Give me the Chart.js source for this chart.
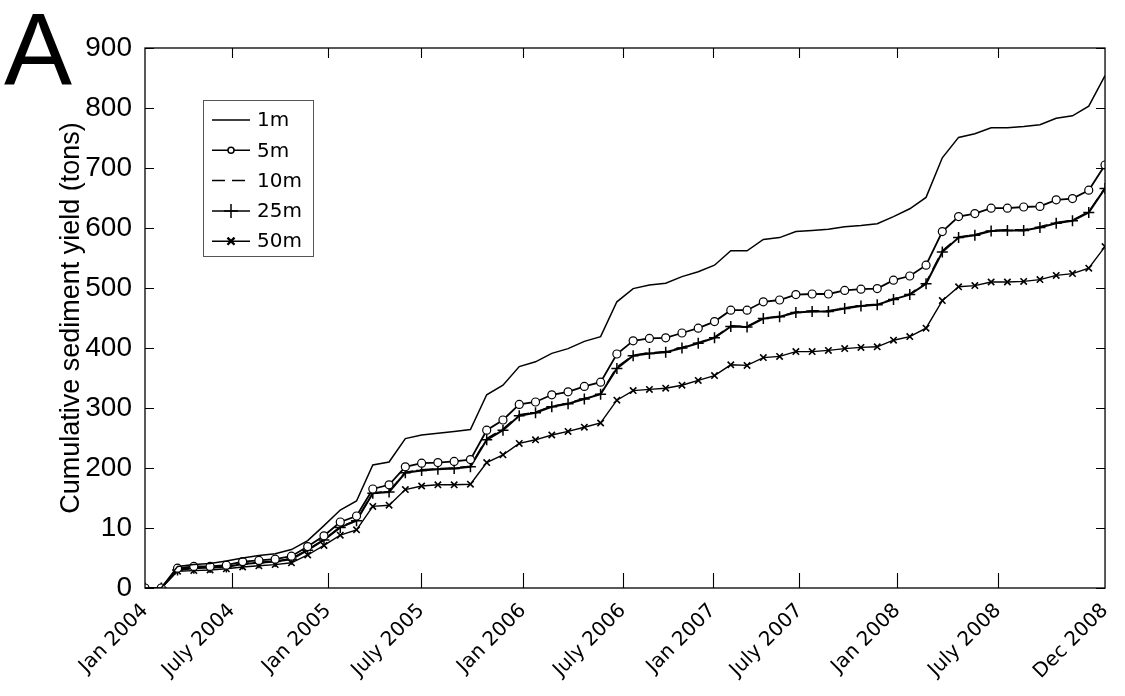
<!DOCTYPE html>
<html><head><meta charset="utf-8">
<script src="https://cdn.jsdelivr.net/npm/chart.js@4.4.0/dist/chart.umd.min.js"></script>
<style>
html,body{margin:0;padding:0;background:#fff;}
#wrap{position:relative;width:1125px;height:696px;overflow:hidden;}
#panel{position:absolute;left:4px;top:-1px;font-family:"Liberation Sans",Arial,sans-serif;font-size:102px;line-height:1;color:#000;}
canvas{position:absolute;left:0;top:0;}
</style></head><body>
<div id="wrap"><canvas id="c" width="1125" height="696"></canvas><div id="panel">A</div></div>
<script>
// Monthly values, Jan 2004 (index 0) .. Dec 2008 (index 59)
const seriesNames = ['1m','5m','10m','25m','50m'];
const y1m  = [0,0,36,39,41,45,50,54,57,64,79,104,130,145,205,210,249,255,258,261,264,322,338,369,377,391,399,411,419,477,499,505,508,519,527,538,562,562,581,584,594,596,598,602,604,607,619,632,651,717,751,757,767,767,769,772,783,787,803,854];
const y5m  = [0,0,33,36,36,38,44,46,48,53,69,87,110,120,165,172,202,208,209,211,214,263,280,306,310,322,327,336,343,390,412,416,417,425,433,444,463,463,477,480,489,490,490,496,498,499,513,520,538,594,619,624,633,633,635,636,647,649,663,705];
const y10m = [0,0,31,34,35,36,41,43,45,49,64,81,102,113,159,161,193,197,199,200,203,249,265,289,293,303,308,316,324,368,388,392,394,401,409,418,437,436,450,453,460,462,462,467,471,473,482,490,509,562,585,589,596,597,597,602,609,613,627,667];
const y25m = [0,0,30,33,34,35,40,42,44,48,63,80,101,112,158,160,192,196,198,199,202,247,263,287,292,302,307,315,323,366,387,391,393,400,408,417,436,435,449,452,459,461,461,466,470,472,481,489,507,560,584,588,595,596,596,601,608,612,626,666];
const y50m = [0,0,28,29,30,32,35,37,39,42,55,71,88,97,136,138,164,170,172,172,173,209,222,241,247,255,261,268,275,313,329,331,333,338,346,354,372,371,384,386,394,394,396,399,401,402,413,419,433,479,502,504,510,510,511,514,521,524,533,569];

const xTickMonths = [0,5.33,11.25,16.98,23.24,29.37,34.88,40.22,46.23,52.42,59];
const xTickLabels = ['Jan 2004','July 2004','Jan 2005','July 2005','Jan 2006','July 2006','Jan 2007','July 2007','Jan 2008','July 2008','Dec 2008'];
const yTickValues = [0,100,200,300,400,500,600,700,800,900];
const yTickLabels = ['0','10','200','300','400','500','600','700','800','900'];
const yTitle = 'Cumulative sediment yield (tons)';

const toPts = arr => arr.map((v,i)=>({x:i,y:v}));

const styles = [
  {borderWidth:1.5, pointRadius:0, pointStyle:false, borderDash:[]},
  {borderWidth:1.8, pointRadius:4, pointStyle:'circle', pointBackgroundColor:'#fff', pointBorderWidth:1.2, borderDash:[]},
  {borderWidth:1.5, pointRadius:0, pointStyle:false, borderDash:[13,7]},
  {borderWidth:2, pointRadius:5.5, pointStyle:'cross', pointBorderWidth:1.5, borderDash:[]},
  {borderWidth:1.4, pointRadius:4.5, pointStyle:'crossRot', pointBorderWidth:1.6, borderDash:[]}
];
const allData = [y1m,y5m,y10m,y25m,y50m];

const datasets = allData.map((d,k)=>Object.assign({
  label: seriesNames[k],
  data: toPts(d),
  borderColor:'#000',
  pointBorderColor:'#000',
  pointBackgroundColor:'#000',
  tension:0,
  fill:false
}, styles[k]));

const framePlugin = {
  id:'frame',
  afterDraw(chart){
    const {ctx, chartArea:{left,right,top,bottom}, scales:{x,y}} = chart;
    ctx.save();
    ctx.strokeStyle='#000';
    ctx.lineWidth=1.3;
    ctx.strokeRect(left, top, right-left, bottom-top);
    ctx.lineWidth=1.1;
    ctx.beginPath();
    yTickValues.forEach(v=>{
      const py = Math.round(y.getPixelForValue(v))+0.5;
      ctx.moveTo(left,py); ctx.lineTo(left+9,py);
      ctx.moveTo(right,py); ctx.lineTo(right-9,py);
    });
    xTickMonths.forEach((m,i)=>{
      if(i===0||i===xTickMonths.length-1) return;
      const px = Math.round(x.getPixelForValue(m))+0.5;
      ctx.moveTo(px,bottom); ctx.lineTo(px,bottom-15);
      ctx.moveTo(px,top); ctx.lineTo(px,top+10);
    });
    ctx.stroke();
    ctx.restore();
  }
};

const legendPlugin = {
  id:'boxLegend',
  afterDraw(chart){
    const {ctx, chartArea:{left,top}} = chart;
    const bx = left+58, by = top+52, bw = 110, bh = 156;
    ctx.save();
    ctx.fillStyle='#fff';
    ctx.fillRect(bx,by,bw,bh);
    ctx.strokeStyle='#555';
    ctx.lineWidth=1;
    ctx.strokeRect(bx+0.5,by+0.5,bw,bh);
    ctx.font='20px "DejaVu Sans"';
    ctx.textBaseline='middle';
    ctx.textAlign='left';
    chart.data.datasets.forEach((ds,k)=>{
      const cy = by+20+k*30.3;
      ctx.strokeStyle='#000';
      ctx.lineWidth=1.5;
      ctx.setLineDash(ds.borderDash||[]);
      ctx.beginPath();
      ctx.moveTo(bx+9,cy); ctx.lineTo(bx+47,cy);
      ctx.stroke();
      ctx.setLineDash([]);
      if(ds.pointStyle){
        ctx.fillStyle = ds.pointBackgroundColor;
        ctx.strokeStyle='#000';
        ctx.lineWidth = ds.pointStyle==='crossRot'?2.4:1.5;
        const r = ds.pointStyle==='circle'?3:(ds.pointStyle==='cross'?7:5);
        Chart.helpers.drawPoint(ctx,{pointStyle:ds.pointStyle,radius:r,rotation:0,borderWidth:ctx.lineWidth},bx+28,cy);
      }
      ctx.fillStyle='#000';
      ctx.fillText(ds.label,bx+54,cy+1);
    });
    ctx.restore();
  }
};

new Chart(document.getElementById('c'),{
  type:'line',
  data:{datasets},
  options:{
    responsive:false,
    animation:false,
    devicePixelRatio:1,
    layout:{padding:{left:0,top:48,right:18,bottom:0}},
    plugins:{legend:{display:false},tooltip:{enabled:false}},
    scales:{
      x:{
        type:'linear', min:0, max:59,
        grid:{display:false}, border:{display:false},
        afterBuildTicks:s=>{ s.ticks = xTickMonths.map(v=>({value:v})); },
        afterFit:s=>{ s.height = 108; },
        ticks:{
          autoSkip:false, minRotation:45, maxRotation:45,
          color:'#000', padding:3,
          font:{family:'DejaVu Sans', size:20},
          callback:(v,i)=>xTickLabels[i]
        }
      },
      y:{
        type:'linear', min:0, max:900,
        grid:{display:false}, border:{display:false},
        afterBuildTicks:s=>{ s.ticks = yTickValues.map(v=>({value:v})); },
        afterFit:s=>{ s.width = 145; },
        ticks:{
          color:'#000', padding:5,
          font:{family:'Liberation Sans', size:28},
          callback:(v,i)=>yTickLabels[i]
        },
        title:{
          display:true, text:yTitle, color:'#000',
          font:{family:'Liberation Sans', size:27},
          padding:{top:55,bottom:0}
        }
      }
    }
  },
  plugins:[framePlugin, legendPlugin]
});
</script>
</body></html>
